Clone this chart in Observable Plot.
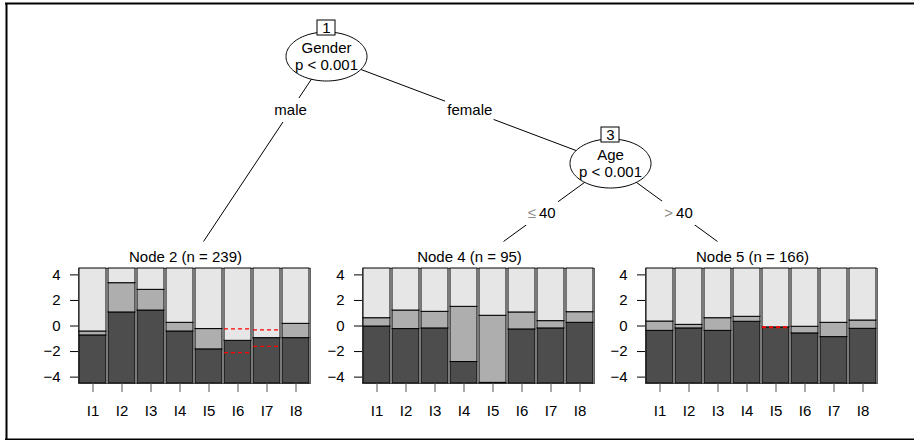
<!DOCTYPE html>
<html>
<head>
<meta charset="utf-8">
<script src="https://cdn.jsdelivr.net/npm/d3@7"></script>
<script src="https://cdn.jsdelivr.net/npm/@observablehq/plot@0.6"></script>
<style>
  body { margin: 0; background: #fff; }
  #root { position: relative; width: 914px; height: 440px; overflow: hidden; background: #fff;
          font-family: "Liberation Sans", Arial, sans-serif; }
</style>
</head>
<body>
<div id="root"></div>
<script>
// ---------------- data ----------------
const items = ["I1", "I2", "I3", "I4", "I5", "I6", "I7", "I8"];

const termIds = [2, 4, 5];
const termN = [239, 95, 166];

// threshold between dark and medium region, and between medium and light region
const lower2 = [-0.74, 1.06, 1.21, -0.43, -1.83, -1.16, -0.95, -0.95];
const upper2 = [-0.43, 3.35, 2.83, 0.25, -0.24, -1.16, -0.95, 0.17];
const lower4 = [-0.04, -0.24, -0.19, -2.82, -4.45, -0.27, -0.19, 0.25];
const upper4 = [0.61, 1.21, 1.11, 1.50, 0.80, 1.06, 0.38, 1.08];
const lower5 = [-0.38, -0.19, -0.38, 0.33, -0.11, -0.58, -0.87, -0.22];
const upper5 = [0.35, 0.09, 0.61, 0.72, -0.11, -0.06, 0.25, 0.43];

// unordered thresholds (red dashed)
const redNode = [2, 2, 5];
const redItem = ["I6", "I7", "I5"];
const redT1 = [-0.22, -0.30, -0.08];
const redT2 = [-2.09, -1.60, -0.13];

// inner nodes
const innerIds = [1, 3];
const innerVar = ["Gender", "Age"];
const innerP = ["p < 0.001", "p < 0.001"];

// edges
const edgeFrom = [1, 1, 3, 3];
const edgeTo = [2, 3, 4, 5];
const edgeOp = ["", "", "\u2264", ">"];
const edgeVal = ["male", "female", "40", "40"];

const yTicks = [-4, -2, 0, 2, 4];
const catColors = ["#4D4D4D", "#AEAEAE", "#E6E6E6"];

// ---------------- layout (pixels) ----------------
const nodePos = {1: [326, 56], 3: [610, 163], 2: [203, 241], 4: [503, 241], 5: [717, 241]};
const labelYByParent = {1: 110, 3: 213};
const rx = 40.5, ry = 24.5;
const panelLeft = [18, 302, 585];
const panelTop = 240;
const FONT = "'Liberation Sans', Arial, Helvetica, sans-serif";

const root = document.getElementById("root");

// ---------------- tree ----------------
const edges = edgeFrom.map((f, i) => {
  const [x1, y1] = nodePos[f], [x2, y2] = nodePos[edgeTo[i]];
  const ly = labelYByParent[f];
  const t = (ly - y1) / (y2 - y1);
  const op = edgeOp[i], val = edgeVal[i];
  const full = op ? op + " " + val : val;
  return {x1, y1, x2, y2, lx: x1 + t * (x2 - x1), ly, op, val, full, hw: (full.length * 7.6 + 3) / 2};
});
const plainEdges = edges.filter(e => !e.op);
const opEdges = edges.filter(e => e.op);

const ellipsePts = [];
innerIds.forEach(id => {
  const [cx, cy] = nodePos[id];
  for (let k = 0; k < 120; k++) {
    const a = (2 * Math.PI * k) / 120;
    ellipsePts.push({id, x: cx + rx * Math.cos(a), y: cy + ry * Math.sin(a)});
  }
});
const inner = innerIds.map((id, i) => ({id, cx: nodePos[id][0], cy: nodePos[id][1], v: innerVar[i], p: innerP[i]}));

const tree = Plot.plot({
  width: 914, height: 440, margin: 0,
  x: {type: "identity", axis: null},
  y: {type: "identity", axis: null},
  style: {fontFamily: FONT, fontSize: "15px", background: "transparent"},
  marks: [
    Plot.ruleX([6], {y1: 3, y2: 440, stroke: "black", strokeWidth: 2}),
    Plot.ruleY([3], {x1: 5, x2: 914, stroke: "black", strokeWidth: 2}),
    Plot.ruleY([439], {x1: 5, x2: 914, stroke: "black", strokeWidth: 2}),
    Plot.link(edges, {x1: "x1", y1: "y1", x2: "x2", y2: "y2", stroke: "black", strokeWidth: 1}),
    // white box interrupting the edge lines behind the labels
    Plot.rect(edges, {x1: d => d.lx - d.hw, x2: d => d.lx + d.hw, y1: d => d.ly - 12, y2: d => d.ly + 12, fill: "white"}),
    Plot.text(plainEdges, {x: "lx", y: "ly", text: "val", fill: "black", fontSize: 15}),
    Plot.text(opEdges, {x: "lx", y: "ly", text: "op", fill: "#8a8a8a", fontSize: 15, textAnchor: "end", dx: -6}),
    Plot.text(opEdges, {x: "lx", y: "ly", text: "val", fill: "black", fontSize: 15, textAnchor: "start", dx: -3}),
    Plot.line(ellipsePts, {x: "x", y: "y", z: "id", curve: "linear-closed", fill: "white", stroke: "black", strokeWidth: 1}),
    Plot.rect(inner, {x1: d => d.cx - 9, x2: d => d.cx + 9, y1: d => d.cy - 36, y2: d => d.cy - 21, fill: "white", stroke: "black", strokeWidth: 1}),
    Plot.text(inner, {x: "cx", y: d => d.cy - 28.5, text: d => String(d.id), fontSize: 15}),
    Plot.text(inner, {x: "cx", y: d => d.cy - 8.5, text: "v", fontSize: 15}),
    Plot.text(inner, {x: "cx", y: d => d.cy + 8.5, text: "p", fontSize: 15})
  ]
});
tree.style.position = "absolute";
tree.style.left = "0px";
tree.style.top = "0px";
root.appendChild(tree);

// ---------------- terminal panels ----------------
const lowers = {2: lower2, 4: lower4, 5: lower5};
const uppers = {2: upper2, 4: upper4, 5: upper5};

termIds.forEach((id, k) => {
  const lo = lowers[id], up = uppers[id];
  const regions = [];
  items.forEach((it, i) => {
    const bounds = [-4.5, lo[i], up[i], 4.5];
    for (let c = 0; c < 3; c++) {
      if (bounds[c + 1] > bounds[c]) regions.push({item: it, y1: bounds[c], y2: bounds[c + 1], fill: catColors[c]});
    }
  });
  const reds = [];
  redNode.forEach((n, j) => {
    if (n === id) {
      reds.push({item: redItem[j], t: redT1[j]});
      reds.push({item: redItem[j], t: redT2[j]});
    }
  });
  const title = `Node ${id} (n = ${termN[k]})`;
  const p = Plot.plot({
    width: 302, height: 183,
    marginLeft: 60, marginRight: 10, marginTop: 28, marginBottom: 40,
    style: {fontFamily: FONT, fontSize: "15px", background: "transparent"},
    x: {type: "band", domain: items, paddingInner: 0.075, paddingOuter: 0},
    y: {domain: [-4.5, 4.5]},
    color: {type: "identity"},
    marks: [
      Plot.frame({fill: "#f4f4f4", stroke: "#666"}),
      Plot.barY(regions, {x: "item", y1: "y1", y2: "y2", fill: "fill", stroke: "black", strokeWidth: 1}),
      Plot.tickY(reds, {x: "item", y: "t", stroke: "red", strokeDasharray: "4,3", strokeWidth: 1.3}),
      Plot.axisY({ticks: yTicks, tickSize: 8, tickPadding: 10, label: null, fontSize: 15}),
      Plot.axisX({tickSize: 9, tickPadding: 13, label: null, fontSize: 15, stroke: "#555"}),
      Plot.text([title], {text: d => d, frameAnchor: "top", dy: -17, dx: -9, fontSize: 15})
    ]
  });
  p.style.position = "absolute";
  p.style.left = panelLeft[k] + "px";
  p.style.top = panelTop + "px";
  root.appendChild(p);
});
</script>
</body>
</html>
